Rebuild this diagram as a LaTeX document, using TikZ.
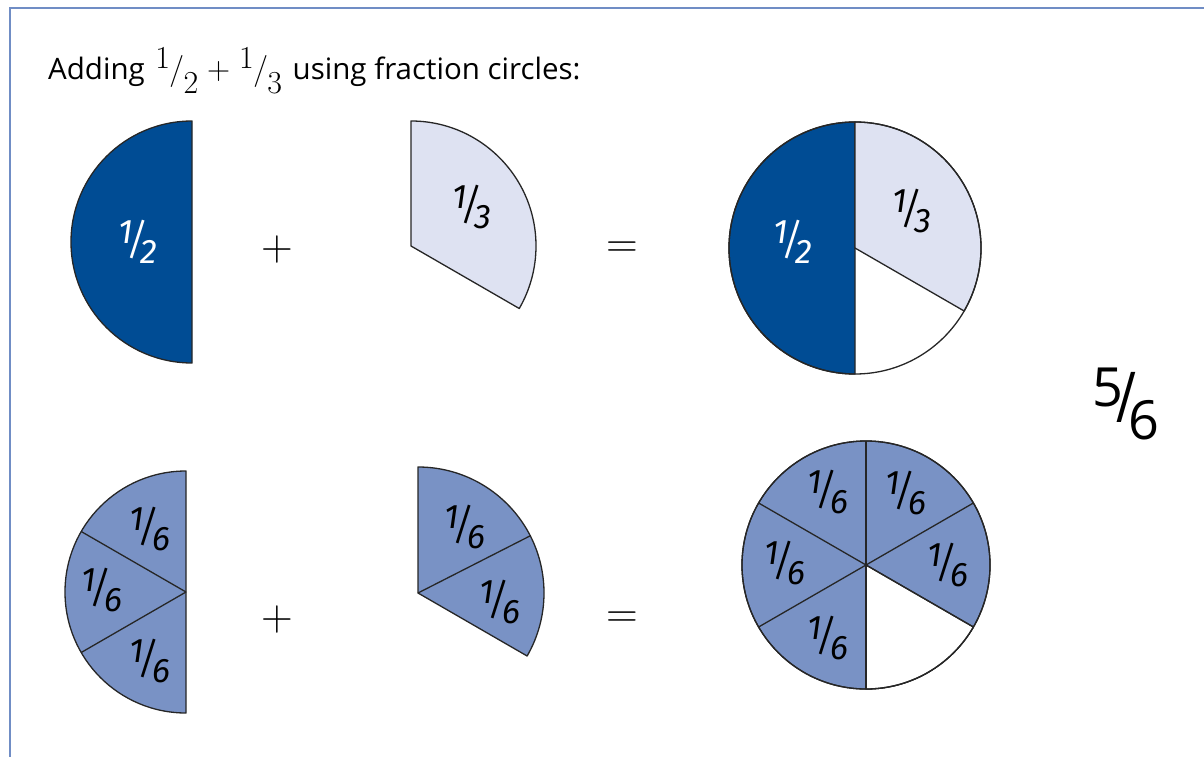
\documentclass[tikz,border=0pt]{standalone}
\usepackage{fontspec}
\setmainfont{Open Sans}
\newfontfamily\handfont{Fira Sans}
\newfontfamily\lmr{Latin Modern Roman}
\definecolor{framecol}{RGB}{112,141,197}
\definecolor{darkblue}{RGB}{0,76,148}
\definecolor{lightlav}{RGB}{222,226,242}
\definecolor{midblue}{RGB}{121,146,197}
\newcommand\ttfr[2]{{\lmr\fontsize{32}{32}\selectfont\raisebox{0.36em}{#1}\kern-0.02em/\kern-0.02em\raisebox{-0.42em}{#2}}}
\newcommand\hfr[2]{\raisebox{0.28em}{#1}\kern-0.14em\raisebox{-0.04em}{\scalebox{1}[1.25]{/}}\kern-0.14em\raisebox{-0.3em}{#2}}
\tikzset{
  piece/.style={draw=black!85, line width=1.3pt, line join=round},
  lab/.style={font=\handfont\itshape\fontsize{34}{34}\selectfont, inner sep=0pt},
  wlab/.style={lab, text=white},
  op/.style={font=\lmr\fontsize{44}{44}\selectfont, inner sep=0pt},
}
\begin{document}
\begin{tikzpicture}[x=1pt,y=-1pt]
\useasboundingbox (0,0) rectangle (1204,757);
\draw[framecol, line width=2.5pt] (10,757) -- (10,8) -- (1204,8);

\node[anchor=base west, inner sep=0pt, font=\fontsize{29.5}{29.5}\selectfont] (title) at (48,80)
  {Adding\hspace{3pt} \ttfr{1}{2}\hspace{9pt}{\lmr\fontsize{32}{32}\selectfont+}\hspace{9pt}\ttfr{1}{3}\hspace{3pt} using fraction circles:};

% centres
\coordinate (c1) at (192,242);
\coordinate (c2) at (411,246);
\coordinate (c3) at (855,248);
\coordinate (c4) at (186,592);
\coordinate (c5) at (418,593);
\coordinate (c6) at (866,565);

% top left: 1/2
\filldraw[piece, fill=darkblue] (c1) ++(-90:121) arc[start angle=-90, end angle=-270, radius=121] -- cycle;
\node[wlab] (l1) at (138,242) {\hfr{1}{2}};

% top middle: 1/3
\filldraw[piece, fill=lightlav] (c2) -- ++(-90:125) arc[start angle=-90, end angle=30, radius=125] -- cycle;
\node[lab] (l2) at (472,207) {\hfr{1}{3}};

% top right: whole
\filldraw[piece, fill=darkblue] (c3) -- ++(-90:126) arc[start angle=-90, end angle=-270, radius=126] -- cycle;
\filldraw[piece, fill=lightlav] (c3) -- ++(-90:126) arc[start angle=-90, end angle=30, radius=126] -- cycle;
\draw[piece] (c3) circle[radius=126];
\node[wlab] (l3) at (793,242) {\hfr{1}{2}};
\node[lab] (l4) at (912,211) {\hfr{1}{3}};

\node[op] (p1) at (277,250) {+};
\node[op] (e1) at (622,250) {=};

% 5/6
\node[inner sep=0pt, font=\fontsize{54}{54}\selectfont] (res) at (1126,404)
  {\raisebox{0.3em}{5}\kern-0.14em\scalebox{1}[1.3]{/}\kern-0.14em\raisebox{-0.32em}{6}};

% bottom left: three sixths
\filldraw[piece, fill=midblue] (c4) ++(-90:121) arc[start angle=-90, end angle=-270, radius=121] -- cycle;
\draw[piece] (c4) -- ++(-150:121);
\draw[piece] (c4) -- ++(-210:121);
\node[lab] (l5) at (150,529) {\hfr{1}{6}};
\node[lab] (l6) at (102,590) {\hfr{1}{6}};
\node[lab] (l7) at (150,661) {\hfr{1}{6}};

% bottom middle: two sixths
\filldraw[piece, fill=midblue] (c5) -- ++(-90:126) arc[start angle=-90, end angle=30, radius=126] -- cycle;
\draw[piece] (c5) -- ++(-27:126);
\node[lab] (l8) at (465,527) {\hfr{1}{6}};
\node[lab] (l9) at (500,602) {\hfr{1}{6}};

\node[op] (p2) at (277,620) {+};
\node[op] (e2) at (622,620) {=};

% bottom right: five sixths
\filldraw[piece, fill=midblue] (c6) circle[radius=124];
\filldraw[piece, fill=white] (c6) -- ++(30:124) arc[start angle=30, end angle=90, radius=124] -- cycle;
\foreach \a in {-90,-30,30,90,150,210} \draw[piece] (c6) -- ++(\a:124);
\draw[piece] (c6) circle[radius=124];
\node[lab] (l10) at (828,492) {\hfr{1}{6}};
\node[lab] (l11) at (906,493) {\hfr{1}{6}};
\node[lab] (l12) at (785,563) {\hfr{1}{6}};
\node[lab] (l13) at (948,565) {\hfr{1}{6}};
\node[lab] (l14) at (828,638) {\hfr{1}{6}};
\end{tikzpicture}
\end{document}
